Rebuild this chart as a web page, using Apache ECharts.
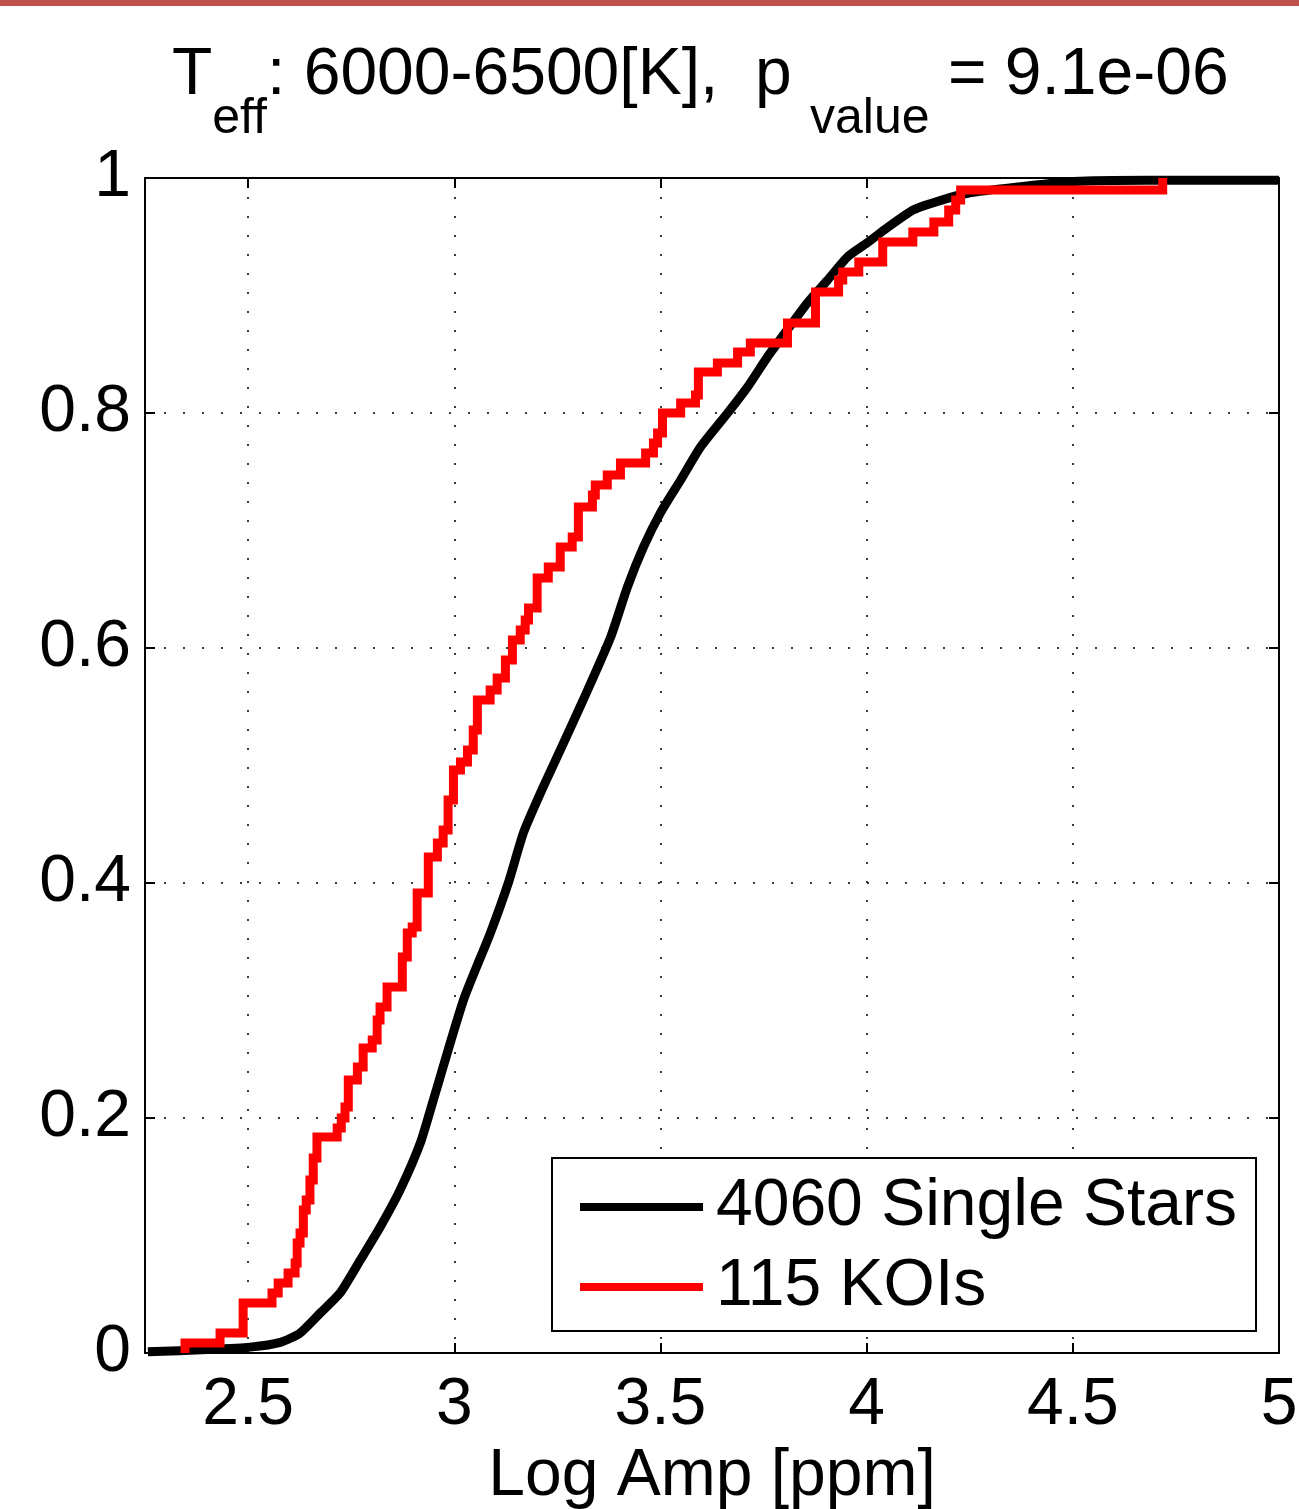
<!DOCTYPE html>
<html>
<head>
<meta charset="utf-8">
<style>
  html, body { margin: 0; padding: 0; background: #ffffff; }
  #chart { width: 1299px; height: 1509px; }
</style>
<script src="https://cdn.jsdelivr.net/npm/echarts@6/dist/echarts.min.js"></script>
</head>
<body>
<div id="chart"></div>
<script>
// ---- data ----
const xTickValues = [2.5, 3, 3.5, 4, 4.5, 5];
const yTickValues = [0, 0.2, 0.4, 0.6, 0.8, 1];

const singleName = '4060 Single Stars';
const singleX = [2.257, 2.401, 2.505, 2.578, 2.626, 2.675, 2.723, 2.772, 2.820, 2.869, 2.918, 2.949, 3.022, 3.087, 3.131, 3.168, 3.216, 3.257, 3.313, 3.379, 3.420, 3.459, 3.500, 3.549, 3.597, 3.663, 3.711, 3.760, 3.808, 3.857, 3.905, 3.954, 4.002, 4.051, 4.114, 4.180, 4.245, 4.357, 4.502, 4.682, 5.0];
const singleY = [0.001, 0.003, 0.005, 0.009, 0.017, 0.034, 0.051, 0.079, 0.107, 0.139, 0.179, 0.215, 0.300, 0.357, 0.400, 0.443, 0.482, 0.513, 0.556, 0.609, 0.652, 0.686, 0.715, 0.743, 0.771, 0.800, 0.822, 0.848, 0.871, 0.894, 0.913, 0.933, 0.945, 0.958, 0.973, 0.981, 0.987, 0.992, 0.997, 0.998, 0.998];

const koiName = '115 KOIs';
const koiX = [2.347, 2.347, 2.432, 2.488, 2.558, 2.573, 2.597, 2.614, 2.619, 2.626, 2.634, 2.641, 2.650, 2.658, 2.667, 2.716, 2.726, 2.735, 2.743, 2.765, 2.779, 2.801, 2.813, 2.820, 2.837, 2.874, 2.886, 2.898, 2.910, 2.937, 2.959, 2.973, 2.985, 2.998, 3.015, 3.032, 3.046, 3.056, 3.087, 3.104, 3.124, 3.141, 3.160, 3.172, 3.180, 3.201, 3.228, 3.257, 3.286, 3.301, 3.335, 3.342, 3.371, 3.403, 3.464, 3.483, 3.493, 3.505, 3.549, 3.585, 3.592, 3.638, 3.687, 3.718, 3.808, 3.876, 3.932, 3.942, 3.981, 4.039, 4.112, 4.163, 4.199, 4.216, 4.228, 4.718];
const koiY = [0, 0.0085, 0.0170, 0.0426, 0.0511, 0.0596, 0.0681, 0.0766, 0.0936, 0.1021, 0.1217, 0.1302, 0.1472, 0.1660, 0.1838, 0.1915, 0.2000, 0.2094, 0.2323, 0.2434, 0.2596, 0.2664, 0.2834, 0.2945, 0.3115, 0.3370, 0.3574, 0.3626, 0.3915, 0.4221, 0.4340, 0.4451, 0.4706, 0.4962, 0.5030, 0.5132, 0.5302, 0.5557, 0.5643, 0.5745, 0.5898, 0.6068, 0.6153, 0.6238, 0.6340, 0.6596, 0.6689, 0.6860, 0.6945, 0.7200, 0.7302, 0.7387, 0.7472, 0.7574, 0.7660, 0.7745, 0.7830, 0.8000, 0.8085, 0.8153, 0.8349, 0.8426, 0.8519, 0.8596, 0.8766, 0.9030, 0.9132, 0.9200, 0.9285, 0.9455, 0.9540, 0.9626, 0.9728, 0.9813, 0.9898, 1.0];

const xAxisName = 'Log Amp [ppm]';

// ---- chart ----
const FONT = '"Liberation Sans", Arial, Helvetica, sans-serif';
const zip = (xs, ys) => xs.map((x, i) => [x, ys[i]]);

const chart = echarts.init(document.getElementById('chart'), null, { renderer: 'canvas' });

const gridLine = { show: true, lineStyle: { color: '#3a3a3a', width: 2, type: [2, 17] } };

const option = {
  backgroundColor: '#ffffff',
  animation: false,
  textStyle: { fontFamily: FONT },
  title: {
    left: 172,
    top: 43,
    padding: 0,
    text: '{m|T}{s|eff}{m|: 6000-6500[K],  p }{s|value}{m| = 9.1e-06}',
    textStyle: {
      fontWeight: 'normal',
      rich: {
        m: { fontFamily: FONT, fontSize: 66, fontWeight: 'normal', color: '#000', lineHeight: 74, verticalAlign: 'top' },
        s: { fontFamily: FONT, fontSize: 50, fontWeight: 'normal', color: '#000', lineHeight: 54, verticalAlign: 'top', padding: [51, 0, 0, 0] }
      }
    }
  },
  graphic: [
    { type: 'rect', left: 0, top: 0, shape: { width: 1299, height: 6 }, style: { fill: '#C0504D' }, silent: true }
  ],
  grid: { left: 145, top: 178, width: 1134, height: 1175, containLabel: false, outerBoundsMode: 'none' },
  legend: {
    orient: 'vertical',
    left: 552,
    top: 1158,
    padding: [9, 19, 4, 28],
    itemGap: 0,
    itemWidth: 123,
    itemHeight: 8,
    icon: 'rect',
    selectedMode: false,
    backgroundColor: '#ffffff',
    borderColor: '#000000',
    borderWidth: 2,
    textStyle: { fontFamily: FONT, fontSize: 66, color: '#000', lineHeight: 70, padding: [10, 0, 0, 8] },
    data: [singleName, koiName]
  },
  xAxis: [
    {
      type: 'value', position: 'bottom', min: 2.25, max: 5,
      name: xAxisName, nameLocation: 'middle', nameGap: 87,
      nameTextStyle: { fontFamily: FONT, fontSize: 66, color: '#000' },
      axisLine: { show: true, onZero: false, lineStyle: { color: '#000', width: 2 } },
      axisTick: { show: true, inside: true, length: 10, lineStyle: { color: '#000', width: 2 }, customValues: xTickValues },
      axisLabel: { show: true, margin: 20, fontFamily: FONT, fontSize: 66, color: '#000', customValues: xTickValues },
      splitLine: gridLine
    },
    {
      type: 'value', position: 'top', min: 2.25, max: 5,
      axisLine: { show: true, onZero: false, lineStyle: { color: '#000', width: 2 } },
      axisTick: { show: true, inside: true, length: 10, lineStyle: { color: '#000', width: 2 }, customValues: xTickValues },
      axisLabel: { show: false, customValues: xTickValues },
      splitLine: { show: false }
    }
  ],
  yAxis: [
    {
      type: 'value', position: 'left', min: 0, max: 1, interval: 0.2,
      axisLine: { show: true, onZero: false, lineStyle: { color: '#000', width: 2 } },
      axisTick: { show: true, inside: true, length: 10, lineStyle: { color: '#000', width: 2 } },
      axisLabel: { show: true, margin: 14, fontFamily: FONT, fontSize: 66, color: '#000', padding: [10, 0, 0, 0],
        formatter: v => String(+v.toFixed(1)) },
      splitLine: gridLine
    },
    {
      type: 'value', position: 'right', min: 0, max: 1, interval: 0.2,
      axisLine: { show: true, onZero: false, lineStyle: { color: '#000', width: 2 } },
      axisTick: { show: true, inside: true, length: 10, lineStyle: { color: '#000', width: 2 } },
      axisLabel: { show: false },
      splitLine: { show: false }
    }
  ],
  series: [
    {
      name: singleName, type: 'line', xAxisIndex: 0, yAxisIndex: 0,
      data: zip(singleX, singleY),
      showSymbol: false, smooth: 0.2, clip: true,
      lineStyle: { color: '#000000', width: 9 },
      itemStyle: { color: '#000000' },
      z: 2
    },
    {
      name: koiName, type: 'line', xAxisIndex: 0, yAxisIndex: 0,
      data: zip(koiX, koiY),
      step: 'end',
      showSymbol: false, clip: true,
      lineStyle: { color: '#ff0000', width: 9, join: 'miter' },
      itemStyle: { color: '#ff0000' },
      z: 3
    }
  ]
};

chart.setOption(option);
</script>
</body>
</html>
